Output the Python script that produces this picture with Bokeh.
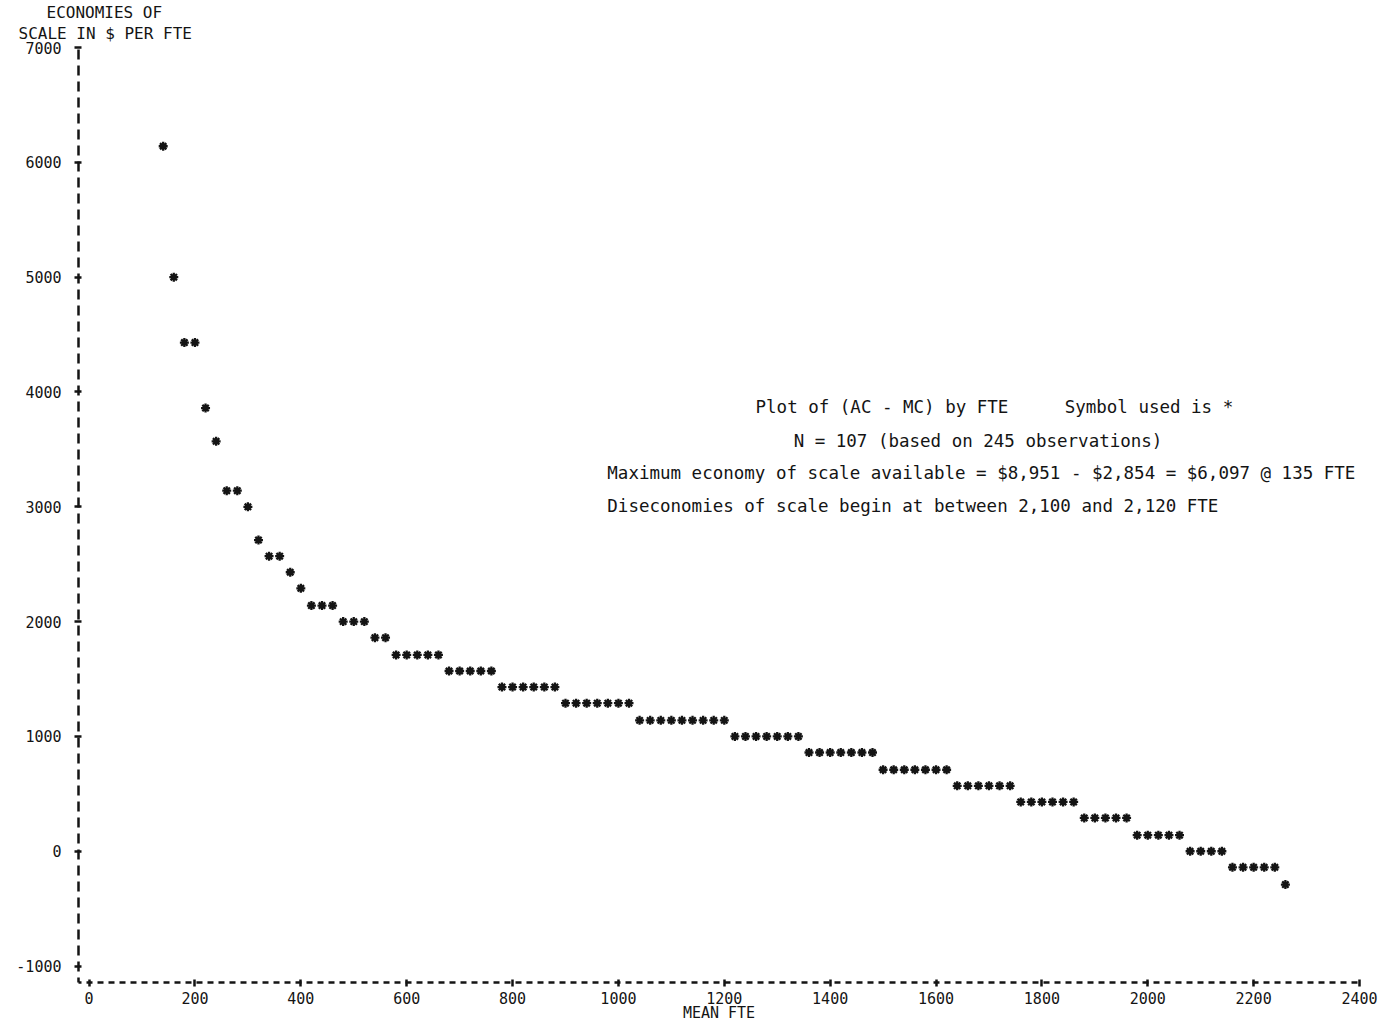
from bokeh.plotting import figure
from bokeh.models import FixedTicker, Label, Range1d, ColumnDataSource, Title
from bokeh.embed import file_html
from bokeh.resources import INLINE

# ---- data (one point per 20-FTE print column) ----
mean_fte = [140, 160, 180, 200, 220, 240, 260, 280, 300, 320, 340, 360, 380, 400,
            420, 440, 460, 480, 500, 520, 540, 560,
            580, 600, 620, 640, 660,
            680, 700, 720, 740, 760,
            780, 800, 820, 840, 860, 880,
            900, 920, 940, 960, 980, 1000, 1020,
            1040, 1060, 1080, 1100, 1120, 1140, 1160, 1180, 1200,
            1220, 1240, 1260, 1280, 1300, 1320, 1340,
            1360, 1380, 1400, 1420, 1440, 1460, 1480,
            1500, 1520, 1540, 1560, 1580, 1600, 1620,
            1640, 1660, 1680, 1700, 1720, 1740,
            1760, 1780, 1800, 1820, 1840, 1860,
            1880, 1900, 1920, 1940, 1960,
            1980, 2000, 2020, 2040, 2060,
            2080, 2100, 2120, 2140,
            2160, 2180, 2200, 2220, 2240,
            2260]
economies = [6140, 5000, 4430, 4430, 3860, 3570, 3140, 3140, 3000, 2710, 2570, 2570, 2430, 2290,
             2140, 2140, 2140, 2000, 2000, 2000, 1860, 1860,
             1710, 1710, 1710, 1710, 1710,
             1570, 1570, 1570, 1570, 1570,
             1430, 1430, 1430, 1430, 1430, 1430,
             1290, 1290, 1290, 1290, 1290, 1290, 1290,
             1140, 1140, 1140, 1140, 1140, 1140, 1140, 1140, 1140,
             1000, 1000, 1000, 1000, 1000, 1000, 1000,
             860, 860, 860, 860, 860, 860, 860,
             710, 710, 710, 710, 710, 710, 710,
             570, 570, 570, 570, 570, 570,
             430, 430, 430, 430, 430, 430,
             290, 290, 290, 290, 290,
             140, 140, 140, 140, 140,
             0, 0, 0, 0,
             -140, -140, -140, -140, -140,
             -290]

x_ticks = [0, 200, 400, 600, 800, 1000, 1200, 1400, 1600, 1800, 2000, 2200, 2400]
x_tick_labels = ["0", "200", "400", "600", "800", "1000", "1200", "1400", "1600",
                 "1800", "2000", "2200", "2400"]
y_ticks = [-1000, 0, 1000, 2000, 3000, 4000, 5000, 6000, 7000]
y_tick_labels = ["-1000", "0", "1000", "2000", "3000", "4000", "5000", "6000", "7000"]

y_title = ["ECONOMIES OF", "SCALE IN $ PER FTE"]
x_title = "MEAN FTE"
note_plot = "Plot of (AC - MC) by FTE"
note_symbol = "Symbol used is *"
note_n = "N = 107 (based on 245 observations)"
note_max = "Maximum economy of scale available = $8,951 - $2,854 = $6,097 @ 135 FTE"
note_dis = "Diseconomies of scale begin at between 2,100 and 2,120 FTE"

FONT = "DejaVu Sans Mono"
INK = "#141414"

p = figure(width=1381, height=1024, output_backend="svg", toolbar_location=None,
           x_range=Range1d(-20, 2400), y_range=Range1d(-1142.86, 7000),
           min_border_left=78, min_border_right=22, min_border_top=47, min_border_bottom=42)
p.title.text = ""
p.background_fill_color = "white"
p.border_fill_color = "white"
p.outline_line_color = None
p.xgrid.visible = False
p.ygrid.visible = False

# vertical axis title: two printed lines above the axis (nearest panel added first);
# a tiny blank title acts as a gap between the axis top and the title lines
p.add_layout(Title(text=" ", standoff=2, text_font=FONT, text_font_size="1px",
                   text_color="white"), "above")
p.add_layout(Title(text=y_title[1], align="left", offset=-60, standoff=0,
                   text_font=FONT, text_font_size="16px", text_font_style="normal",
                   text_color=INK), "above")
p.add_layout(Title(text=y_title[0], align="left", offset=-32, standoff=0,
                   text_font=FONT, text_font_size="16px", text_font_style="normal",
                   text_color=INK), "above")

src = ColumnDataSource(dict(x=mean_fte, y=economies))
p.scatter("x", "y", source=src, marker="asterisk", size=9, line_width=2.3,
          line_color=INK)

for ax in (p.xaxis[0], p.yaxis[0]):
    ax.axis_line_width = 2.5
    ax.axis_line_color = INK
    ax.major_tick_line_width = 2.5
    ax.major_tick_line_color = INK
    ax.major_tick_in = 3
    ax.major_tick_out = 4
    ax.minor_tick_line_color = None
    ax.major_label_text_font = FONT
    ax.major_label_text_font_size = "15px"
    ax.major_label_text_color = INK

p.xaxis[0].ticker = FixedTicker(ticks=x_ticks)
p.xaxis[0].major_label_overrides = dict(zip(x_ticks, x_tick_labels))
p.xaxis[0].axis_line_dash = "6 5"
p.xaxis[0].axis_line_dash_offset = 3
p.xaxis[0].major_label_standoff = 5
p.xaxis[0].axis_label = x_title
p.xaxis[0].axis_label_text_font = FONT
p.xaxis[0].axis_label_text_font_size = "15px"
p.xaxis[0].axis_label_text_font_style = "normal"
p.xaxis[0].axis_label_text_color = INK
p.xaxis[0].axis_label_standoff = -3

p.yaxis[0].ticker = FixedTicker(ticks=y_ticks)
p.yaxis[0].major_label_overrides = dict(zip(y_ticks, y_tick_labels))
p.yaxis[0].axis_line_dash = "10 6"
p.yaxis[0].axis_line_dash_offset = 5
p.yaxis[0].major_label_standoff = 13


def note(x, y, text, align="left", size="17.5px"):
    p.add_layout(Label(x=x, y=y, text=text, text_font=FONT, text_font_size=size,
                       text_color=INK, text_align=align, text_baseline="middle"))


note(1259, 3865, note_plot)
note(1843, 3865, note_symbol)
note(1331, 3577, note_n)
note(979, 3290, note_max)
note(979, 3003, note_dis)

open("out.html", "w").write(file_html(p, INLINE))
